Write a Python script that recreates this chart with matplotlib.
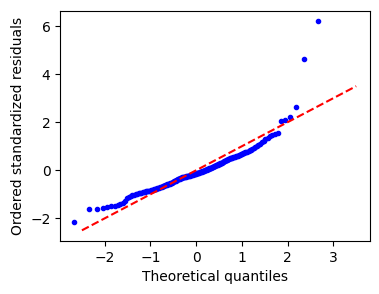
import numpy as np
import matplotlib
matplotlib.use('Agg')
import matplotlib.pyplot as plt
from statistics import NormalDist

# ordered standardized residuals
resid = [
    -2.16, -1.62, -1.60, -1.58, -1.52, -1.49, -1.47, -1.45, -1.42, -1.36,
    -1.26, -1.17, -1.11, -1.07, -1.04, -1.02, -0.99, -0.97, -0.95, -0.94,
    -0.93, -0.92, -0.90, -0.89, -0.88, -0.87, -0.86, -0.85, -0.83, -0.82,
    -0.81, -0.80, -0.79, -0.78, -0.77, -0.75, -0.73, -0.72, -0.70, -0.69,
    -0.68, -0.67, -0.66, -0.64, -0.63, -0.62, -0.61, -0.59, -0.58, -0.57,
    -0.56, -0.54, -0.52, -0.51, -0.49, -0.48, -0.46, -0.44, -0.43, -0.41,
    -0.40, -0.38, -0.37, -0.36, -0.35, -0.34, -0.32, -0.31, -0.30, -0.29,
    -0.285, -0.28, -0.27, -0.26, -0.255, -0.25, -0.24, -0.235, -0.23, -0.22,
    -0.21, -0.20, -0.195, -0.19, -0.18, -0.17, -0.165, -0.155, -0.15, -0.14,
    -0.13, -0.12, -0.115, -0.11, -0.10, -0.09, -0.08, -0.07, -0.06, -0.05,
    -0.04, -0.03, -0.02, -0.01, 0.0, 0.02, 0.03, 0.04, 0.06, 0.07,
    0.08, 0.09, 0.10, 0.11, 0.13, 0.14, 0.15, 0.16, 0.18, 0.19,
    0.21, 0.22, 0.23, 0.25, 0.26, 0.28, 0.29, 0.31, 0.32, 0.34,
    0.36, 0.37, 0.39, 0.41, 0.42, 0.44, 0.45, 0.47, 0.49, 0.50,
    0.52, 0.53, 0.54, 0.56, 0.57, 0.58, 0.60, 0.61, 0.62, 0.64,
    0.66, 0.68, 0.70, 0.72, 0.74, 0.76, 0.78, 0.80, 0.83, 0.85,
    0.89, 0.92, 0.96, 1.00, 1.05, 1.11, 1.17, 1.23, 1.30, 1.36,
    1.42, 1.46, 1.49, 1.53, 2.03, 2.11, 2.20, 2.62, 4.65, 6.21,
]
line_ends = [-2.5, 3.5]

# theoretical quantiles (Filliben plotting positions, like scipy probplot)
n = len(resid)
nd = NormalDist()
pos = [(i - 0.3175) / (n + 0.365) for i in range(1, n + 1)]
pos[-1] = 0.5 ** (1.0 / n)
pos[0] = 1 - pos[-1]
theo = [nd.inv_cdf(p) for p in pos]

fig = plt.figure(figsize=(3.79, 2.94), dpi=100)
ax = fig.add_axes([0.159, 0.181, 0.818, 0.783])
ax.plot(theo, resid, 'b.')
ax.plot(line_ends, line_ends, 'r--')
ax.set_xlabel('Theoretical quantiles')
ax.set_ylabel('Ordered standardized residuals')
fig.savefig('out.png', dpi=100)
